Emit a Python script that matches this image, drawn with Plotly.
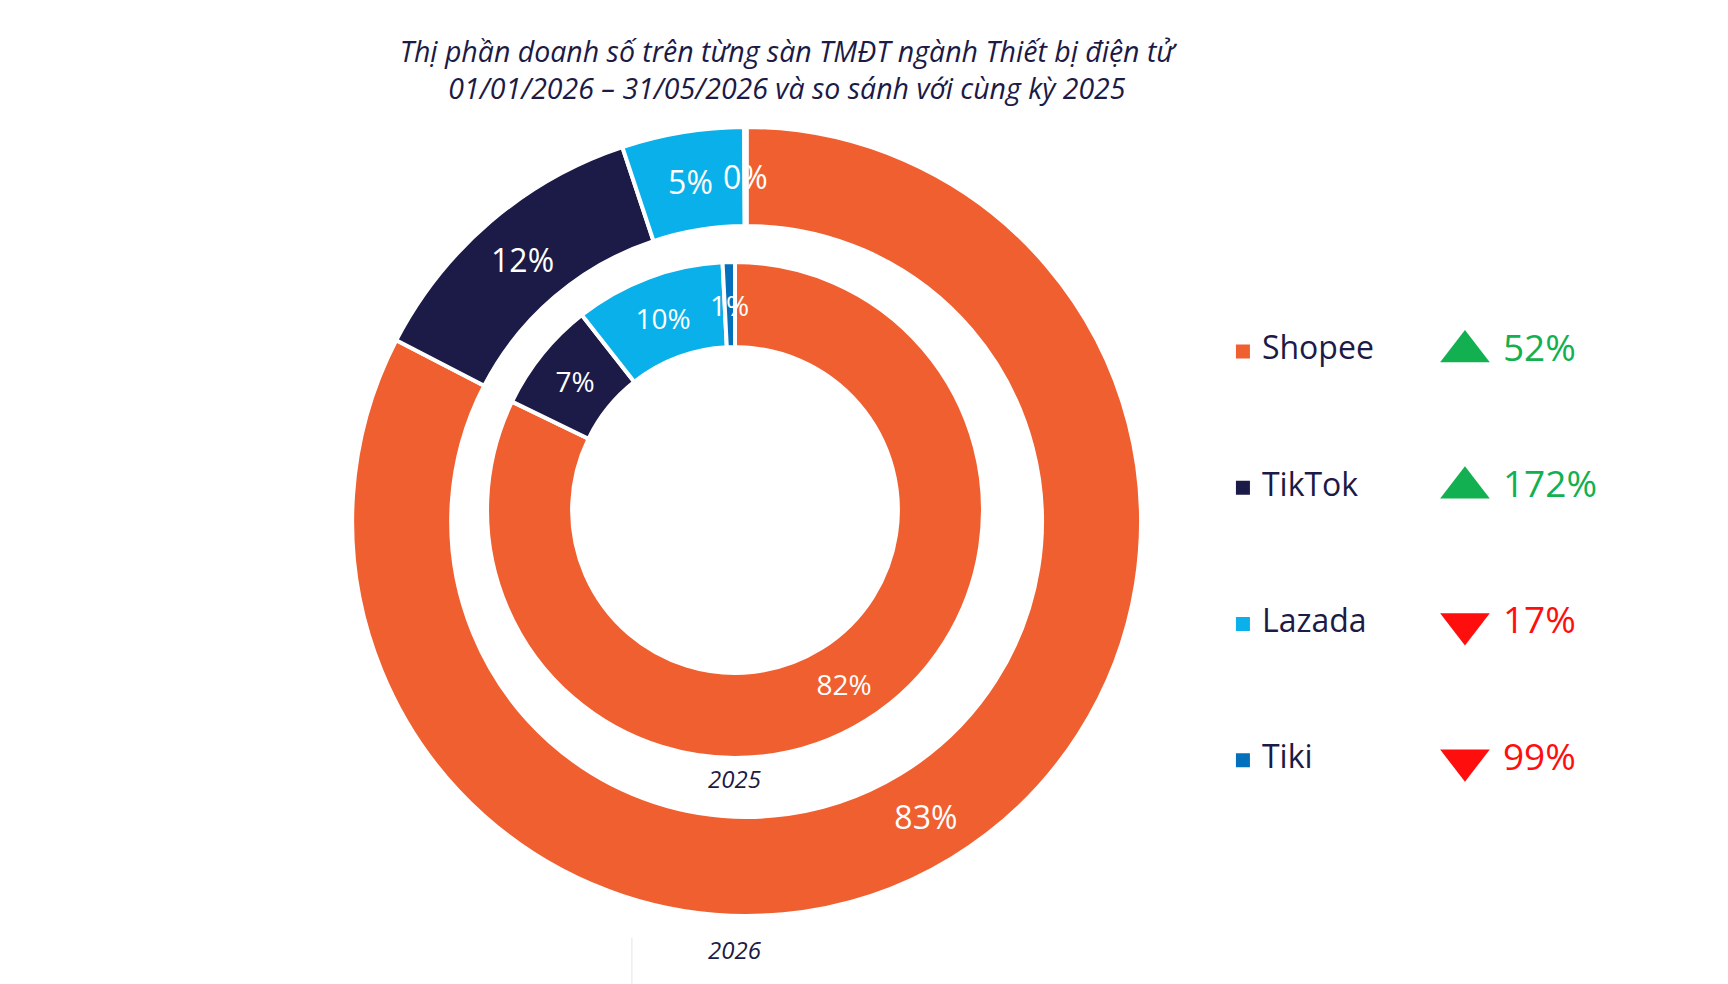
import math
import plotly.graph_objects as go

# platforms and colours
platforms = ['Shopee', 'TikTok', 'Lazada', 'Tiki']
colors = ['#F05F30', '#1C1A46', '#0AB0EA', '#0270BA']

# market share (%)
share_2026 = [82.6, 12.3, 5.0, 0.1]
share_2025 = [82.2, 7.2, 9.8, 0.8]

# year-on-year change (%) shown at the right
growth = [52, 172, -17, -99]

navy = '#1C1A46'
green = '#12B050'
red = '#FF0E0E'
font_name = 'Open Sans'
W, H = 1728, 984

outer_dom = dict(x=[0.2038, 0.6603], y=[0.0691, 0.8710])
inner_dom = dict(x=[0.2818, 0.5689], y=[0.2297, 0.7337])
outer_hole = 0.749
inner_hole = 0.657
small = 2.0  # slices below this share get their label placed by hand


def ring(values, hole, dom, size):
    pos = ['none' if v < small else 'inside' for v in values]
    return go.Pie(
        labels=platforms,
        values=values,
        hole=hole,
        sort=False,
        direction='clockwise',
        rotation=0,
        marker=dict(colors=colors, line=dict(color='white', width=4)),
        texttemplate='%{percent:.0%}',
        textposition=pos,
        insidetextorientation='horizontal',
        textfont=dict(family=font_name, size=size, color='white'),
        domain=dom,
        showlegend=False,
        hoverinfo='label+percent',
    )


def small_labels(values, hole, dom, size):
    # label thin slices at the middle of the ring, like the original
    total = sum(values)
    cx = (dom['x'][0] + dom['x'][1]) / 2 * W
    cy = (1 - (dom['y'][0] + dom['y'][1]) / 2) * H
    r = min((dom['x'][1] - dom['x'][0]) * W, (dom['y'][1] - dom['y'][0]) * H) / 2
    rm = r * (1 + hole) / 2
    out = []
    cum = 0
    for v in values:
        if v < small:
            ang = math.radians((cum + v / 2) / total * 360)
            out.append(dict(
                text='%d%%' % round(v / total * 100),
                x=(cx + rm * math.sin(ang)) / W,
                y=1 - (cy - rm * math.cos(ang)) / H,
                xref='paper', yref='paper', xanchor='center', yanchor='middle',
                showarrow=False,
                font=dict(family=font_name, size=size, color='white'),
            ))
        cum += v
    return out


fig = go.Figure()
fig.add_trace(ring(share_2026, outer_hole, outer_dom, 32))  # outer ring = 2026
fig.add_trace(ring(share_2025, inner_hole, inner_dom, 28))  # inner ring = 2025

# custom legend with growth arrows on the right
rows = list(range(len(platforms)))
fig.add_trace(go.Scatter(
    x=[1243] * len(platforms), y=rows, mode='markers',
    marker=dict(symbol='square', size=14, color=colors),
    showlegend=False, hoverinfo='skip',
))
fig.add_trace(go.Scatter(
    x=[1262] * len(platforms), y=rows, mode='text',
    text=platforms, textposition='middle right',
    textfont=dict(family=font_name, size=32, color=navy),
    showlegend=False, hoverinfo='skip',
))
fig.add_trace(go.Scatter(
    x=[1465] * len(platforms), y=rows, mode='markers',
    marker=dict(
        symbol=['triangle-up' if g > 0 else 'triangle-down' for g in growth],
        size=43,
        color=[green if g > 0 else red for g in growth],
    ),
    showlegend=False, hoverinfo='skip',
))
fig.add_trace(go.Scatter(
    x=[1503] * len(platforms), y=rows, mode='text',
    text=['%d%%' % abs(g) for g in growth], textposition='middle right',
    textfont=dict(family=font_name, size=37,
                  color=[green if g > 0 else red for g in growth]),
    showlegend=False, hoverinfo='skip',
))

annotations = small_labels(share_2026, outer_hole, outer_dom, 32)
annotations += small_labels(share_2025, inner_hole, inner_dom, 28)
annotations += [
    dict(text='<i>2025</i>', x=0.4253, y=0.2093, xref='paper', yref='paper',
         xanchor='center', yanchor='middle',
         showarrow=False, font=dict(family=font_name, size=24, color=navy)),
    dict(text='<i>2026</i>', x=0.4253, y=0.0346, xref='paper', yref='paper',
         xanchor='center', yanchor='middle',
         showarrow=False, font=dict(family=font_name, size=24, color=navy)),
]

fig.update_layout(
    width=W,
    height=H,
    margin=dict(l=0, r=0, t=0, b=0),
    paper_bgcolor='white',
    plot_bgcolor='white',
    font=dict(family=font_name, color=navy),
    title=dict(
        text='<i>Thị phần doanh số trên từng sàn TMĐT ngành Thiết bị điện tử<br>'
             '01/01/2026 – 31/05/2026 và so sánh với cùng kỳ 2025</i>',
        font=dict(family=font_name, size=28.5, color=navy),
        x=0.4554, xanchor='center',
        yref='container', y=0.937, yanchor='top',
    ),
    xaxis=dict(domain=[0.6944, 1.0], range=[1200, 1728], visible=False, fixedrange=True),
    yaxis=dict(domain=[0.1581, 0.7121], range=[3.5, -0.5], visible=False, fixedrange=True),
    annotations=annotations,
    shapes=[
        dict(type='line', xref='paper', yref='paper', x0=0.3657, x1=0.3657,
             y0=0, y1=0.047, line=dict(color='#E4E4E4', width=1)),
    ],
)

fig.write_html('out.html', config={'displayModeBar': False},
               post_script="document.body.style.margin='0px';")
